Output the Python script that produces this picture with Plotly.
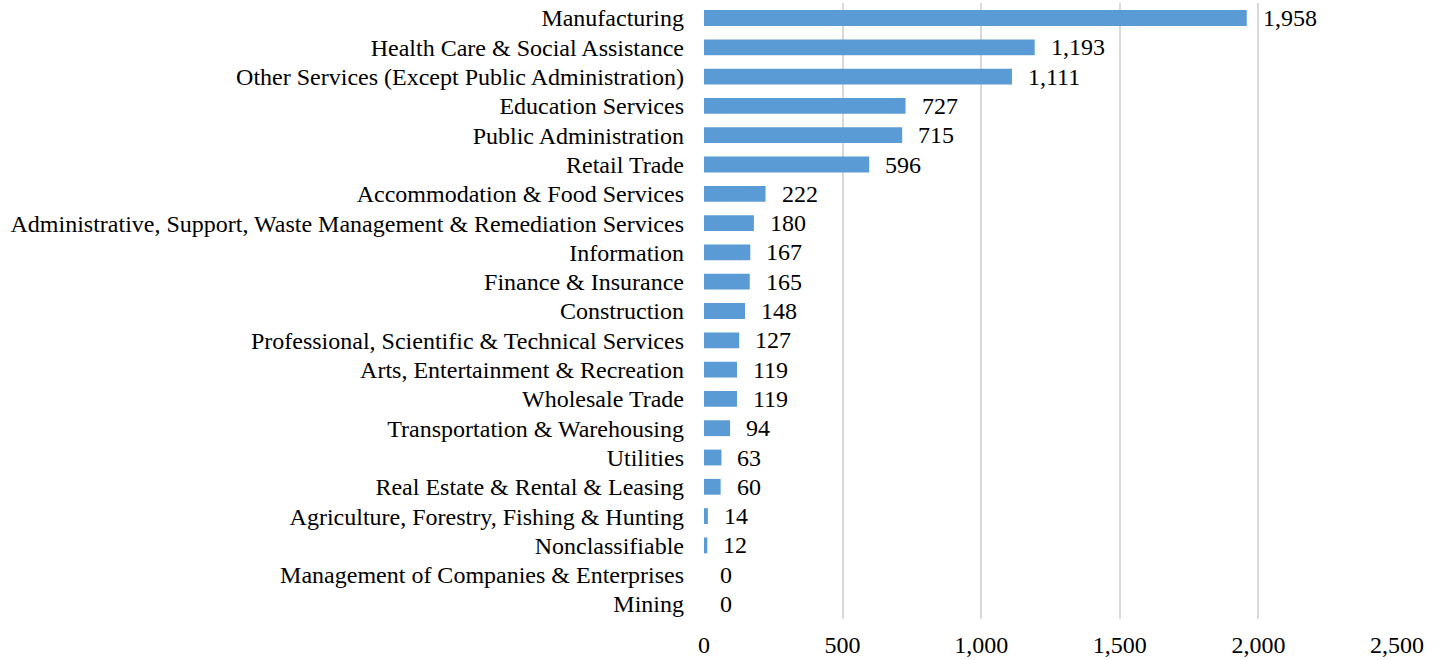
import plotly.graph_objects as go

categories = [
    "Manufacturing",
    "Health Care & Social Assistance",
    "Other Services (Except Public Administration)",
    "Education Services",
    "Public Administration",
    "Retail Trade",
    "Accommodation & Food Services",
    "Administrative, Support, Waste Management & Remediation Services",
    "Information",
    "Finance & Insurance",
    "Construction",
    "Professional, Scientific & Technical Services",
    "Arts, Entertainment & Recreation",
    "Wholesale Trade",
    "Transportation & Warehousing",
    "Utilities",
    "Real Estate & Rental & Leasing",
    "Agriculture, Forestry, Fishing & Hunting",
    "Nonclassifiable",
    "Management of Companies & Enterprises",
    "Mining",
]
values = [1958, 1193, 1111, 727, 715, 596, 222, 180, 167, 165, 148, 127, 119, 119, 94, 63, 60, 14, 12, 0, 0]
x_ticks = [0, 500, 1000, 1500, 2000, 2500]

FONT = "Liberation Serif, Times New Roman, serif"
FS = 24

fig = go.Figure(go.Bar(
    y=categories,
    x=values,
    orientation="h",
    marker=dict(color="#5B9BD5", line=dict(width=0)),
    hoverinfo="x+y",
))

annotations = [
    dict(x=v, y=c, xref="x", yref="y", text=f"{v:,}", showarrow=False,
         xanchor="left", yanchor="middle", xshift=14,
         font=dict(family=FONT, size=FS, color="#000000"))
    for c, v in zip(categories, values)
]

fig.update_layout(
    width=1440, height=660,
    margin=dict(l=704, r=43, t=3, b=41),
    paper_bgcolor="white", plot_bgcolor="white",
    bargap=0.46,
    showlegend=False,
    font=dict(family=FONT, size=FS, color="#000000"),
    annotations=annotations,
    xaxis=dict(
        range=[0, 2500], tickvals=x_ticks, ticktext=[f"{t:,}" for t in x_ticks],
        showgrid=True, gridcolor="#D9D9D9", gridwidth=1.5, zeroline=False,
        showline=False, ticks="", ticklabelstandoff=9,
    ),
    yaxis=dict(
        categoryorder="array", categoryarray=categories, autorange="reversed",
        showgrid=False, zeroline=False, showline=False, ticks="",
        ticklabelstandoff=19,
    ),
)

fig.write_html("out.html", config={"displayModeBar": False},
               post_script="document.body.style.margin='0';")
